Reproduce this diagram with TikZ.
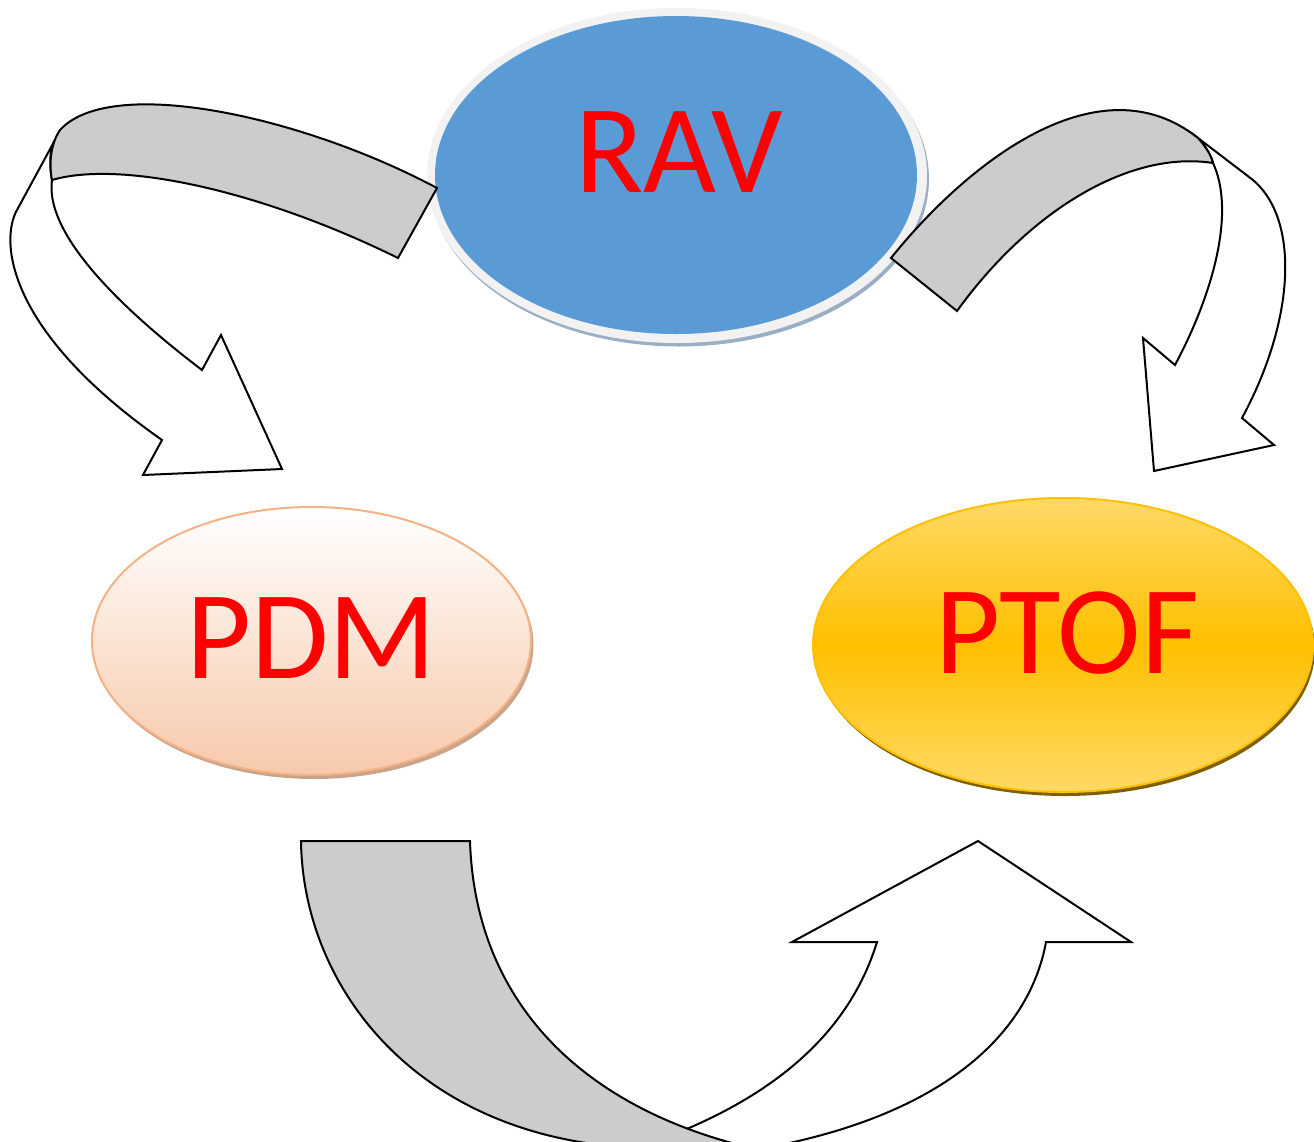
\documentclass[tikz,border=0pt]{standalone}
\usepackage{fontspec}
\setmainfont{Carlito}
\usetikzlibrary{shapes.geometric}

\definecolor{ravblue}{HTML}{5B9BD5}
\definecolor{ravring}{HTML}{F2F2F2}
\definecolor{ravshade}{HTML}{9AAFC6}
\definecolor{pdmbottom}{HTML}{F7C9AB}
\definecolor{pdmline}{HTML}{F4B183}
\definecolor{pdmshade}{HTML}{C8A48C}
\definecolor{ptofpale}{HTML}{FFD966}
\definecolor{ptofdeep}{HTML}{FFC000}
\definecolor{ptofshade}{HTML}{7F6000}
\definecolor{bandgrey}{HTML}{CCCCCC}
\definecolor{labelred}{HTML}{FF0000}

\tikzset{
  oval/.style={ellipse, inner sep=0pt, outer sep=0pt},
  bigword/.style={text=labelred, font=\fontsize{63}{63}\selectfont, anchor=base, inner sep=0pt},
  band/.style={fill=bandgrey, draw=black, line width=1pt, line join=miter},
  face/.style={fill=white, draw=black, line width=1pt, line join=miter},
}

\begin{document}
\begin{tikzpicture}[x=0.5pt,y=-0.5pt]
\useasboundingbox (0,0) rectangle (1314,1142);
\clip (0,0) rectangle (1314,1142);

% RAV: blue disc with a pale rim and a soft shadow
\node[oval, fill=ravshade, minimum width=250pt, minimum height=167.5pt] (ravshadow) at (679,179) {};
\node[oval, fill=ravring, minimum width=250pt, minimum height=167.5pt] (ravrim) at (677,175.5) {};
\node[oval, fill=ravblue, minimum width=241pt, minimum height=159pt] (rav) at (676,175) {};
\node[bigword] (ravtext) at (679,192) {RAV};

% PDM: peach gradient
\node[oval, fill=pdmshade, minimum width=219.5pt, minimum height=134pt] (pdmshadow) at (314,645) {};
\node[oval, top color=white, bottom color=pdmbottom, draw=pdmline, line width=1pt,
      minimum width=219.5pt, minimum height=134pt] (pdm) at (311.5,641) {};
\node[bigword] (pdmtext) at (311.5,678) {PDM};

% PTOF: golden gradient
\node[oval, fill=ptofshade, minimum width=250pt, minimum height=147pt] (ptofshadow) at (1065,649) {};
\node[oval, top color=ptofpale, bottom color=ptofpale, middle color=ptofdeep, draw=ptofdeep, line width=1pt,
      minimum width=250pt, minimum height=147pt] (ptof) at (1063,645) {};
\node[bigword] (ptoftext) at (1067,673) {PTOF};

% curved arrow from RAV down to PDM
\draw[face] (55,140) -- (17,210) .. controls (0,240) and (5,330) .. (162,440)
  -- (143,475) -- (282,469) -- (221,335) -- (202,370)
  .. controls (110,300) and (45,230) .. (52,180)
  .. controls (49,165) and (50,145) .. (55,140) -- cycle;
\draw[band] (437,188) .. controls (300,115) and (110,75) .. (60,130)
  .. controls (50,145) and (49,165) .. (52,180)
  .. controls (120,160) and (260,190) .. (398,258) -- cycle;

% curved arrow from RAV down to PTOF
\draw[face] (1198,138) -- (1253,180) .. controls (1300,220) and (1295,320) .. (1242,418)
  -- (1274,445) -- (1154,471) -- (1143,338) -- (1175,365)
  .. controls (1215,290) and (1235,210) .. (1213,163)
  .. controls (1211,155) and (1206,147) .. (1198,138) -- cycle;
\draw[band] (891,258) .. controls (970,160) and (1100,60) .. (1198,138)
  .. controls (1206,147) and (1211,155) .. (1213,163)
  .. controls (1130,150) and (1030,210) .. (957,311) -- cycle;

% curved arrow from PDM round to PTOF
\draw[face] (682,1131) .. controls (780,1090) and (850,1030) .. (877,942)
  -- (792,942) -- (978,841) -- (1131,942) -- (1046,942)
  .. controls (1030,1030) and (950,1110) .. (780,1145)
  -- (720,1175) -- cycle;
\draw[band] (301,841) -- (470,841) .. controls (475,1000) and (580,1110) .. (760,1150)
  -- (700,1170) -- (640,1148) .. controls (420,1140) and (303,990) .. (301,841) -- cycle;
\end{tikzpicture}
\end{document}
